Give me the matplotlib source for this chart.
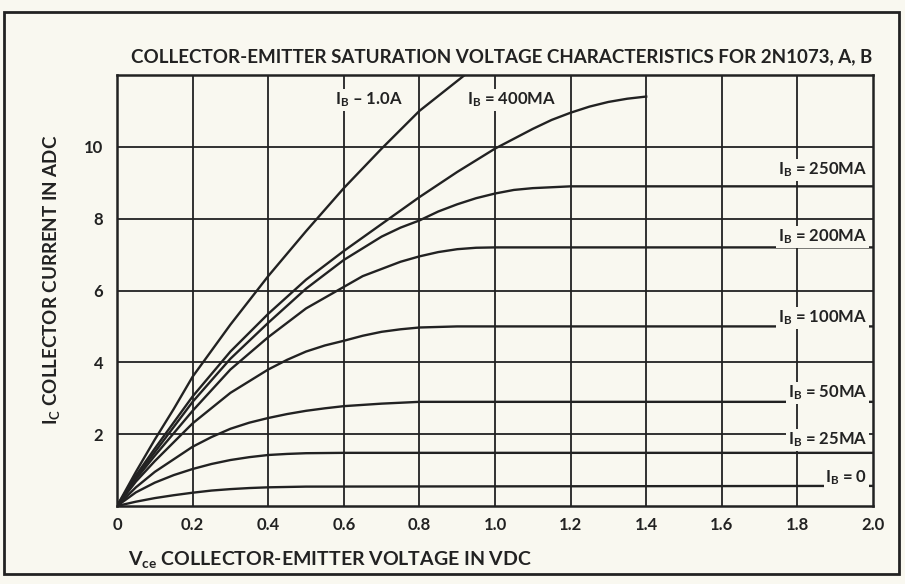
import numpy as np
from matplotlib import pyplot as plt
from matplotlib.patches import Rectangle

# readings: Vce (V) and Ic (A) for each base current
vce_1a = [0, 0.05, 0.1, 0.15, 0.2, 0.3, 0.4, 0.5, 0.6, 0.7, 0.8, 0.92]
ic_1a = [0, 0.95, 1.85, 2.7, 3.6, 5.05, 6.4, 7.65, 8.85, 9.95, 11.0, 12.0]

vce_400 = [0, 0.05, 0.1, 0.2, 0.3, 0.4, 0.5, 0.6, 0.7, 0.8, 0.9, 1.0, 1.1, 1.15, 1.2, 1.25, 1.3, 1.35, 1.4]
ic_400 = [0, 0.85, 1.6, 3.05, 4.3, 5.35, 6.3, 7.1, 7.85, 8.6, 9.3, 9.95, 10.5, 10.75, 10.95, 11.12, 11.25, 11.34, 11.4]

vce_250 = [0, 0.05, 0.1, 0.2, 0.3, 0.4, 0.5, 0.6, 0.7, 0.75, 0.8, 0.85, 0.9, 0.95, 1.0, 1.05, 1.1, 1.2, 2.0]
ic_250 = [0, 0.8, 1.5, 2.9, 4.1, 5.1, 6.05, 6.85, 7.5, 7.75, 7.95, 8.2, 8.4, 8.57, 8.7, 8.8, 8.85, 8.9, 8.9]

vce_200 = [0, 0.05, 0.1, 0.2, 0.3, 0.4, 0.5, 0.6, 0.65, 0.7, 0.75, 0.8, 0.85, 0.9, 0.95, 1.0, 2.0]
ic_200 = [0, 0.75, 1.4, 2.65, 3.8, 4.7, 5.5, 6.1, 6.4, 6.6, 6.8, 6.95, 7.07, 7.15, 7.19, 7.2, 7.2]

vce_100 = [0, 0.05, 0.1, 0.2, 0.3, 0.4, 0.45, 0.5, 0.55, 0.6, 0.65, 0.7, 0.75, 0.8, 0.9, 2.0]
ic_100 = [0, 0.68, 1.25, 2.3, 3.15, 3.8, 4.07, 4.3, 4.47, 4.6, 4.74, 4.85, 4.92, 4.97, 5.0, 5.0]

vce_50 = [0, 0.05, 0.1, 0.2, 0.25, 0.3, 0.35, 0.4, 0.45, 0.5, 0.55, 0.6, 0.7, 0.8, 2.0]
ic_50 = [0, 0.52, 0.95, 1.65, 1.92, 2.15, 2.32, 2.45, 2.56, 2.65, 2.72, 2.78, 2.85, 2.9, 2.9]

vce_25 = [0, 0.05, 0.1, 0.15, 0.2, 0.25, 0.3, 0.35, 0.4, 0.45, 0.5, 0.6, 2.0]
ic_25 = [0, 0.38, 0.65, 0.86, 1.03, 1.17, 1.28, 1.36, 1.42, 1.45, 1.47, 1.48, 1.48]

vce_0 = [0, 0.05, 0.1, 0.15, 0.2, 0.25, 0.3, 0.35, 0.4, 0.5, 2.0]
ic_0 = [0, 0.12, 0.22, 0.3, 0.37, 0.43, 0.47, 0.5, 0.52, 0.54, 0.56]

curves = [(vce_1a, ic_1a), (vce_400, ic_400), (vce_250, ic_250), (vce_200, ic_200),
          (vce_100, ic_100), (vce_50, ic_50), (vce_25, ic_25), (vce_0, ic_0)]

# curve labels and where they sit
labels = ["I$_B$ – 1.0A", "I$_B$ = 400MA", "I$_B$ = 250MA", "I$_B$ = 200MA",
          "I$_B$ = 100MA", "I$_B$ = 50MA", "I$_B$ = 25MA", "I$_B$ = 0"]
label_x = [0.755, 1.045, 1.985, 1.985, 1.985, 1.985, 1.985, 1.985]
label_y = [11.3, 11.3, 9.36, 7.5, 5.24, 3.15, 1.84, 0.78]
label_ha = ['right', 'center', 'right', 'right', 'right', 'right', 'right', 'right']

xticks = [0, 0.2, 0.4, 0.6, 0.8, 1.0, 1.2, 1.4, 1.6, 1.8, 2.0]
xtick_labels = ["0", "0.2", "0.4", "0.6", "0.8", "1.0", "1.2", "1.4", "1.6", "1.8", "2.0"]
yticks = [2, 4, 6, 8, 10]

paper = '#f9f8f0'
ink = '#222222'

plt.rcParams['font.family'] = ['Lato', 'DejaVu Sans']
plt.rcParams['font.weight'] = 'bold'
plt.rcParams['mathtext.fontset'] = 'custom'
plt.rcParams['mathtext.rm'] = 'Lato:bold'
plt.rcParams['mathtext.it'] = 'Lato:bold'
plt.rcParams['mathtext.bf'] = 'Lato:bold'
plt.rcParams['mathtext.default'] = 'bf'

fig = plt.figure(figsize=(9.05, 5.84), dpi=100, facecolor=paper)
ax = fig.add_axes([117 / 905, 1 - 506 / 584, 756 / 905, 431 / 584])
ax.set_facecolor(paper)

# outer border of the page
fig.add_artist(Rectangle((4 / 905, 1 - 574 / 584), 895 / 905, 562 / 584,
                         transform=fig.transFigure, fill=False, lw=2, ec=ink))

for x in np.arange(0.2, 2.0, 0.2):
    ax.axvline(x, color=ink, lw=1.3, zorder=1)
for y in range(2, 12, 2):
    ax.axhline(y, color=ink, lw=1.3, zorder=1)

for vce, ic in curves:
    ax.plot(vce, ic, color=ink, lw=1.7, zorder=2, solid_joinstyle='round')

for txt, lx, ly, ha in zip(labels, label_x, label_y, label_ha):
    ax.text(lx, ly, txt, ha=ha, va='center', fontsize=12, color=ink, zorder=3,
            bbox=dict(facecolor=paper, edgecolor='none', pad=1.2))

ax.set_xlim(0, 2.0)
ax.set_ylim(0, 12)
ax.set_xticks(xticks)
ax.set_xticklabels(xtick_labels)
ax.set_yticks(yticks)
ax.tick_params(length=0, labelsize=12, colors=ink)
ax.tick_params(axis='x', pad=8)
ax.tick_params(axis='y', pad=10)
for s in ax.spines.values():
    s.set_linewidth(1.8)
    s.set_color(ink)

fig.text(502 / 905, 1 - 57 / 584,
         "COLLECTOR-EMITTER SATURATION VOLTAGE CHARACTERISTICS FOR 2N1073, A, B",
         ha='center', va='center', fontsize=13.5, color=ink)
fig.text(128 / 905, 1 - 560 / 584, "V$_{ce}$ COLLECTOR-EMITTER VOLTAGE IN VDC",
         ha='left', va='center', fontsize=14, color=ink)
fig.text(52 / 905, 1 - 280 / 584, "I$_C$ COLLECTOR CURRENT IN ADC",
         ha='center', va='center', rotation=90, fontsize=13.5, color=ink)

fig.savefig('out.png', dpi=100, facecolor=paper)
